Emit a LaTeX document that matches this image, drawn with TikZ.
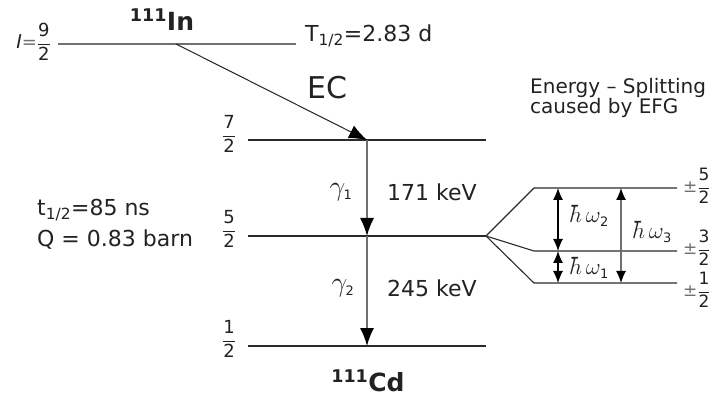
\RequirePackage{fix-cm}
\documentclass[tikz,border=0pt]{standalone}
\usepackage{fontspec}
\setmainfont{DejaVu Sans}
\usetikzlibrary{arrows.meta,positioning}
\definecolor{ink}{HTML}{222222}
\definecolor{strich}{HTML}{2A2A2A}
\definecolor{grau}{HTML}{707070}
\newcommand{\gross}{\fontsize{22}{26}\selectfont}
\newcommand{\mittel}{\fontsize{20}{20.5}\selectfont}
\newcommand{\bruchfont}{\fontsize{18}{20}\selectfont}
\newcommand{\spinbruch}[2]{$\displaystyle\frac{\mbox{#1}}{\mbox{#2}}$}
\newcommand{\gammaindex}[1]{$\gamma_{\mbox{\fontsize{13}{13}\selectfont#1}}$}
\newcommand{\hwindex}[1]{$\hbar\,\omega_{\mbox{\fontsize{13}{13}\selectfont#1}}$}
\tikzset{niveau/.style={strich,line width=1.1pt},
  gammapfeil/.style={grau,line width=1.5pt,-{Latex[length=18pt,width=14pt,black]}},
  ecpfeil/.style={ink,line width=1pt,-{Latex[length=18pt,width=14pt,black]}},
  splitpfeil/.style={line width=1.2pt,
    {Latex[length=12pt,width=10pt,black]}-{Latex[length=12pt,width=10pt,black]}},
  beschrift/.style={inner sep=0,text=ink,font=\gross}}

\begin{document}
\begin{tikzpicture}[x=1pt,y={(0,-1pt)}]
\useasboundingbox (0,0) rectangle (709,403);
% Niveaus
\coordinate (in_l) at (58,44);\coordinate (in_r) at (296,44);
\coordinate (ec_a) at (176,44);
\coordinate (n7_l) at (248,140);\coordinate (n7_r) at (486,140);
\coordinate (n5_l) at (248,236);\coordinate (n5_r) at (486,236);
\coordinate (n1_l) at (248,346);\coordinate (n1_r) at (486,346);
\coordinate (g7) at (367,140);\coordinate (g5) at (367,236);\coordinate (g1) at (367,346);
\draw[niveau,grau] (in_l) -- (in_r);
\draw[niveau] (n7_l) -- (n7_r);
\draw[niveau] (n5_l) -- (n5_r);
\draw[niveau] (n1_l) -- (n1_r);
% Aufspaltung
\coordinate (s5_l) at (534,188);\coordinate (s5_r) at (677,188);
\coordinate (s3_l) at (534,251);\coordinate (s3_r) at (677,251);
\coordinate (s1_l) at (534,283);\coordinate (s1_r) at (677,283);
\draw[niveau] (n5_r) -- (s5_l) -- (s5_r);
\draw[niveau] (n5_r) -- (s3_l) -- (s3_r);
\draw[niveau] (n5_r) -- (s1_l) -- (s1_r);
% Uebergaenge
\draw[ecpfeil] (ec_a) -- (g7);
\draw[gammapfeil] (g7) -- (g5);
\draw[gammapfeil] (g5) -- (g1);
\coordinate (w2_o) at (558,188);\coordinate (w2_u) at (558,251);
\coordinate (w1_u) at (558,283);
\coordinate (w3_o) at (621,188);\coordinate (w3_u) at (621,283);
\draw[splitpfeil,black] (w2_o) -- (w2_u);
\draw[splitpfeil,black] (w2_u) -- (w1_u);
\draw[splitpfeil,grau] (w3_o) -- (w3_u);
% Beschriftungen
\node[beschrift,anchor=east] (spin_in) at (51,42) {{\fontsize{19}{20}\selectfont\itshape I}{\color{grau}\fontsize{18}{18}\selectfont=}{\bruchfont\spinbruch{9}{2}}};
\node[beschrift,font=\fontsize{25}{30}\selectfont\bfseries] (in) at (162,20) {\textsuperscript{111}In};
\node[beschrift,anchor=west] (halbwert) at (305,36) {T\textsubscript{1/2}=2.83 d};
\node[beschrift,anchor=west,font=\fontsize{30}{32}\selectfont] (ec) at (307,88) {EC};
\node[beschrift,font=\bruchfont] (spin7) at (229,134) {\spinbruch{7}{2}};
\node[beschrift,font=\bruchfont] (spin5) at (229,229) {\spinbruch{5}{2}};
\node[beschrift,font=\bruchfont] (spin1) at (229,339) {\spinbruch{1}{2}};
\node[beschrift,font=\fontsize{28}{28}\selectfont] (gamma1) at (341,192) {\gammaindex{1}};
\node[beschrift,font=\fontsize{28}{28}\selectfont] (gamma2) at (343,288) {\gammaindex{2}};
\node[beschrift,anchor=west] (e171) at (387,192) {171 keV};
\node[beschrift,anchor=west] (e245) at (387,288) {245 keV};
\node[beschrift,anchor=west,align=left,font=\fontsize{22}{31}\selectfont] (kern) at (37,224) {t\textsubscript{1/2}=85 ns\\Q = 0.83 barn};
\node[beschrift,font=\fontsize{25}{30}\selectfont\bfseries] (cd) at (368,381) {\textsuperscript{111}Cd};
\node[beschrift,anchor=west,align=left,font=\mittel] (efg) at (530,98) {Energy -- Splitting\\caused by EFG};
\node[beschrift,font=\fontsize{23}{24}\selectfont] (hw2) at (589,216) {\hwindex{2}};
\node[beschrift,font=\fontsize{23}{24}\selectfont] (hw1) at (589,268) {\hwindex{1}};
\node[beschrift,font=\fontsize{23}{24}\selectfont] (hw3) at (652,232) {\hwindex{3}};
\node[beschrift,anchor=west,font=\fontsize{17}{18}\selectfont] (m5) at (683,186) {{\color{grau}±}\spinbruch{5}{2}};
\node[beschrift,anchor=west,font=\fontsize{17}{18}\selectfont] (m3) at (683,248) {{\color{grau}±}\spinbruch{3}{2}};
\node[beschrift,anchor=west,font=\fontsize{17}{18}\selectfont] (m1) at (683,290) {{\color{grau}±}\spinbruch{1}{2}};
\end{tikzpicture}
\end{document}
